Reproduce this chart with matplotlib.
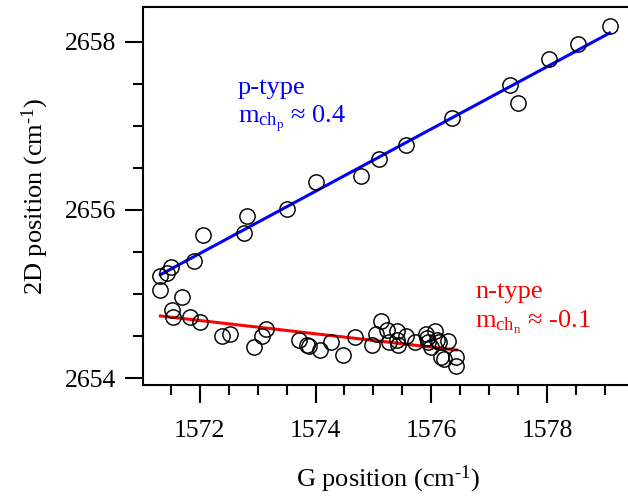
import matplotlib
matplotlib.use("Agg")
import matplotlib.pyplot as plt
import numpy as np
from matplotlib.ticker import MultipleLocator

plt.rcParams["font.family"] = ["Liberation Serif", "DejaVu Serif"]
plt.rcParams["mathtext.fontset"] = "custom"
plt.rcParams["mathtext.rm"] = "Liberation Serif"
plt.rcParams["mathtext.it"] = "Liberation Serif:italic"

# p-type points (G position, 2D position)
p_g = [1579.09, 1578.53, 1578.03, 1577.35, 1577.49, 1576.36, 1575.57, 1575.09,
       1574.79, 1574.00, 1573.51, 1572.82, 1572.77, 1572.06, 1571.90, 1571.50,
       1571.44, 1571.31, 1571.31]
p_2d = [2658.18, 2657.97, 2657.79, 2657.48, 2657.27, 2657.09, 2656.77, 2656.61,
        2656.40, 2656.33, 2656.01, 2655.93, 2655.73, 2655.70, 2655.39, 2655.32,
        2655.25, 2655.22, 2655.05]

# n-type points
n_g = [1571.69, 1571.52, 1571.54, 1571.83, 1572.00, 1572.39, 1572.52, 1572.94,
       1573.08, 1573.15, 1573.72, 1573.85, 1573.88, 1574.07, 1574.27, 1574.48,
       1574.69, 1574.98, 1575.04, 1575.13, 1575.24, 1575.27, 1575.40, 1575.41,
       1575.43, 1575.57, 1575.71, 1575.90, 1575.93, 1575.94, 1576.00, 1576.06,
       1576.09, 1576.14, 1576.28, 1576.17, 1576.22, 1576.43, 1576.42]
n_2d = [2654.97, 2654.81, 2654.73, 2654.73, 2654.67, 2654.50, 2654.52, 2654.37,
        2654.50, 2654.58, 2654.46, 2654.40, 2654.38, 2654.33, 2654.43, 2654.28,
        2654.49, 2654.39, 2654.53, 2654.68, 2654.57, 2654.43, 2654.56, 2654.45,
        2654.39, 2654.50, 2654.43, 2654.53, 2654.48, 2654.43, 2654.37, 2654.56,
        2654.45, 2654.43, 2654.44, 2654.25, 2654.23, 2654.25, 2654.15]

# linear fits: (x start, x end, slope, value at x start)
p_fit = (1571.32, 1579.08, 0.37, 2655.23)
n_fit = (1571.32, 1576.43, -0.079, 2654.74)

fig = plt.figure(figsize=(6.28, 4.96), dpi=100)
ax = fig.add_axes([143 / 628, 111 / 496, 491 / 628, 378 / 496])

for (x0, x1, k, y0), col in [(p_fit, "#0000ff"), (n_fit, "#ff0000")]:
    xs = np.array([x0, x1])
    ax.plot(xs, y0 + k * (xs - x0), color=col, lw=2.2, zorder=3)

ax.plot(p_g, p_2d, "o", ms=11, mfc="none", mec="black", mew=1.05, zorder=4)
ax.plot(n_g, n_2d, "o", ms=11, mfc="none", mec="black", mew=1.05, zorder=4)

ax.set_xlim(1571.02, 1579.5)
ax.set_ylim(2653.92, 2658.41)

ax.xaxis.set_major_locator(MultipleLocator(2))
ax.xaxis.set_minor_locator(MultipleLocator(0.5))
ax.yaxis.set_major_locator(MultipleLocator(2))
ax.yaxis.set_minor_locator(MultipleLocator(0.5))
ax.tick_params(which="major", direction="out", length=13, width=1.5,
               labelsize=18.5)
ax.tick_params(axis="x", which="major", pad=12)
ax.tick_params(axis="y", which="major", pad=6)
ax.tick_params(which="minor", direction="out", length=7, width=1.5)
ax.spines["right"].set_visible(False)
for s in ["left", "bottom", "top"]:
    ax.spines[s].set_linewidth(1.5)

ax.set_xlabel(r"G position (cm$^{\text{-}1}$)", fontsize=19, labelpad=16)
ax.set_ylabel(r"2D position (cm$^{\text{-}1}$)", fontsize=19, labelpad=10)

ax.text(1572.66, 2657.45, "p-type", color="#0000ff", fontsize=19, va="center")
ax.text(1572.66, 2657.08, r"m$_{\mathrm{ch}_\mathrm{p}}$ ≈ 0.4", color="#0000ff",
        fontsize=19, va="center")
ax.text(1576.76, 2655.03, "n-type", color="#ff0000", fontsize=19, va="center")
ax.text(1576.76, 2654.66, r"m$_{\mathrm{ch}_\mathrm{n}}$ ≈ -0.1", color="#ff0000",
        fontsize=19, va="center")

fig.savefig("out.png", dpi=100, facecolor="white")
